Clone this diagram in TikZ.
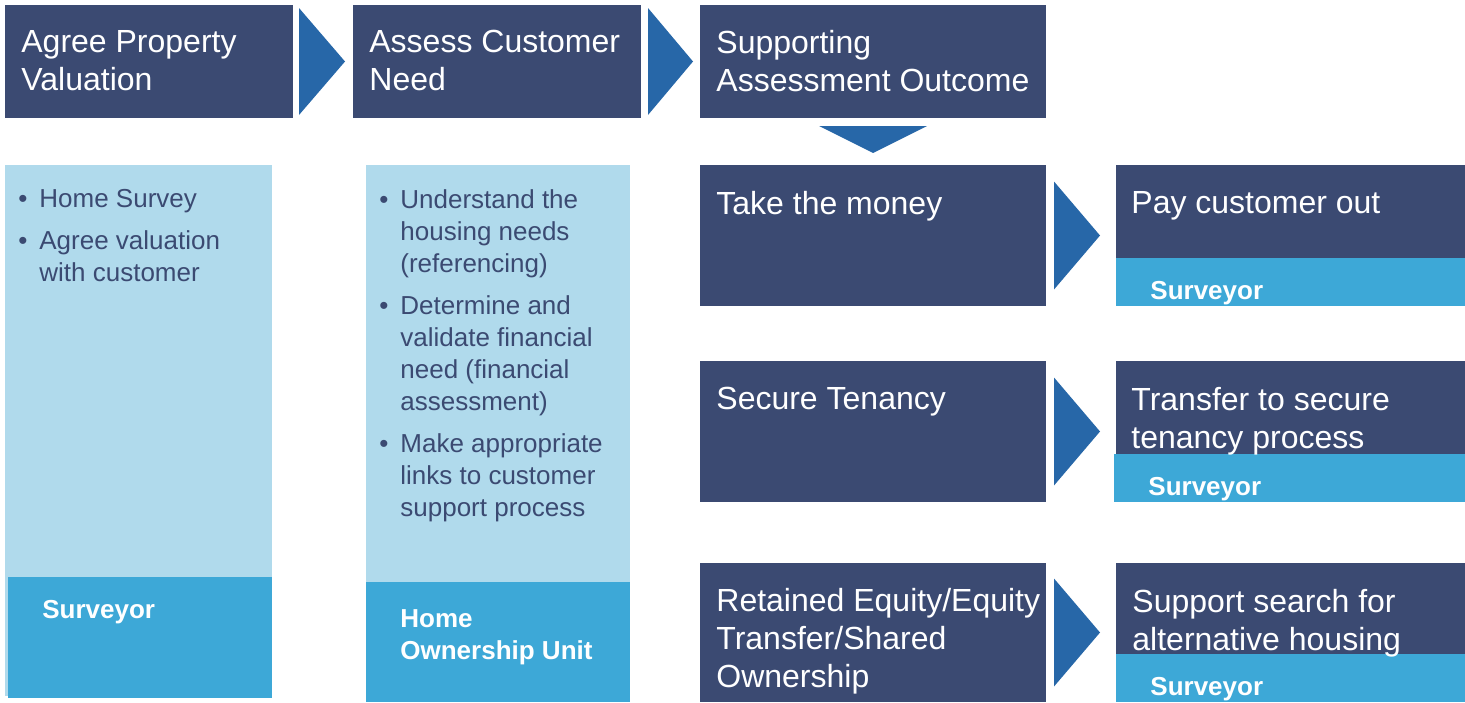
\documentclass[tikz,border=0pt]{standalone}
\usepackage{fontspec}
\setmainfont{Liberation Sans}
\usetikzlibrary{positioning}
\definecolor{navy}{HTML}{3B4A72}
\definecolor{arrowblue}{HTML}{2767A8}
\definecolor{paleblue}{HTML}{B0DAEC}
\definecolor{roleblue}{HTML}{3DA8D7}
\tikzset{
	box/.style={anchor=north west,inner sep=0,outer sep=0,fill=navy},
	palebox/.style={box,fill=paleblue},
	rolebox/.style={box,fill=roleblue},
	chevron/.style={fill=arrowblue},
	headtext/.style={anchor=north west,inner sep=0,yshift=-1pt,text=white,align=left,font=\fontsize{16}{19}\selectfont},
	listtext/.style={anchor=north west,inner sep=0,yshift=-0.5pt,text=navy,align=left,font=\fontsize{13}{16}\selectfont},
	roletext/.style={anchor=north west,inner sep=0,yshift=-1pt,text=white,align=left,font=\fontsize{13}{16}\selectfont\bfseries}
}

\begin{document}
\begin{tikzpicture}[x=0.5pt,y=-0.5pt]
		\useasboundingbox (0,0) rectangle (1465,702);
		%%%top row
		\node[box,minimum width=144pt,minimum height=56.5pt] (agree) at (5,5) {};
		\node[box,minimum width=144pt,minimum height=56.5pt] (assess) at (353,5) {};
		\node[box,minimum width=173pt,minimum height=56.5pt] (outcome) at (700,5) {};
		\node[headtext] (agreetxt) at (21,28) {Agree Property\\Valuation};
		\node[headtext] (assesstxt) at (369,28) {Assess Customer\\Need};
		\node[headtext] (outcometxt) at (716,28) {Supporting\\Assessment Outcome};
		
		\fill[chevron] ([xshift=3pt,yshift=-1.5pt]agree.north east) -- ([xshift=3pt,yshift=1.5pt]agree.south east) -- ([xshift=26pt]agree.east) -- cycle;
		\fill[chevron] ([xshift=3.5pt,yshift=-1.5pt]assess.north east) -- ([xshift=3.5pt,yshift=1.5pt]assess.south east) -- ([xshift=26pt]assess.east) -- cycle;
		\fill[chevron] ([xshift=-27pt,yshift=-4pt]outcome.south) -- ([xshift=27pt,yshift=-4pt]outcome.south) -- ([yshift=-17.5pt]outcome.south) -- cycle;
		
		%%%valuation column
		\node[palebox,minimum width=133.5pt,minimum height=265.5pt] (valcol) at (5,165) {};
		\node[rolebox,minimum width=132pt,minimum height=60.5pt] (valrole) at (8,577) {};
		\node[listtext] (vallist) at (18,188) {\makebox[10.5pt][l]{•}Home Survey\\[5pt]
			\makebox[10.5pt][l]{•}Agree valuation\\
			\hspace*{10.5pt}with customer};
		\node[roletext] (valroletxt) at (42,598) {Surveyor};
		
		%%%need column
		\node[palebox,minimum width=132pt,minimum height=268.5pt] (needcol) at (366,165) {};
		\node[rolebox,minimum width=132pt,minimum height=60pt] (needrole) at (366,582) {};
		\node[listtext] (needlist) at (379,188) {\makebox[10.5pt][l]{•}Understand the\\
			\hspace*{10.5pt}housing needs\\
			\hspace*{10.5pt}(referencing)\\[5pt]
			\makebox[10.5pt][l]{•}Determine and\\
			\hspace*{10.5pt}validate financial\\
			\hspace*{10.5pt}need (financial\\
			\hspace*{10.5pt}assessment)\\[5pt]
			\makebox[10.5pt][l]{•}Make appropriate\\
			\hspace*{10.5pt}links to customer\\
			\hspace*{10.5pt}support process};
		\node[roletext] (needroletxt) at (400,607) {Home\\Ownership Unit};
		
		%%%outcomes
		\node[box,minimum width=173pt,minimum height=70.5pt] (money) at (700,165) {};
		\node[box,minimum width=173pt,minimum height=70.5pt] (tenancy) at (700,361) {};
		\node[box,minimum width=173pt,minimum height=69.5pt] (equity) at (700,563) {};
		\node[headtext] (moneytxt) at (716,189) {Take the money};
		\node[headtext] (tenancytxt) at (716,385) {Secure Tenancy};
		\node[headtext] (equitytxt) at (716,586) {Retained Equity/Equity\\Transfer/Shared\\Ownership};
		
		\foreach \src in {money,tenancy,equity}
		\fill[chevron] ([xshift=4pt,yshift=27pt]\src.east) -- ([xshift=4pt,yshift=-27pt]\src.east) -- ([xshift=27pt]\src.east) -- cycle;
		
		%%%next steps
		\node[box,minimum width=174.5pt,minimum height=70.5pt] (payout) at (1116,165) {};
		\node[rolebox,minimum width=174.5pt,minimum height=24pt] (payrole) at (1116,258) {};
		\node[box,minimum width=174.5pt,minimum height=70.5pt] (transfer) at (1116,361) {};
		\node[rolebox,minimum width=175.5pt,minimum height=24pt] (transrole) at (1114,454) {};
		\node[box,minimum width=174.5pt,minimum height=69.5pt] (search) at (1116,563) {};
		\node[rolebox,minimum width=174.5pt,minimum height=24pt] (searchrole) at (1116,654) {};
		\node[headtext] (payouttxt) at (1131,189) {Pay customer out};
		\node[headtext] (transfertxt) at (1131,385) {Transfer to secure\\tenancy process};
		\node[headtext] (searchtxt) at (1132,587) {Support search for\\alternative housing};
		\node[roletext] (payroletxt) at (1150,279) {Surveyor};
		\node[roletext] (transroletxt) at (1148,475) {Surveyor};
		\node[roletext] (searchroletxt) at (1150,675) {Surveyor};
		
		%\draw[red] (0,0) rectangle (1465,702);
	\end{tikzpicture}
\end{document}
